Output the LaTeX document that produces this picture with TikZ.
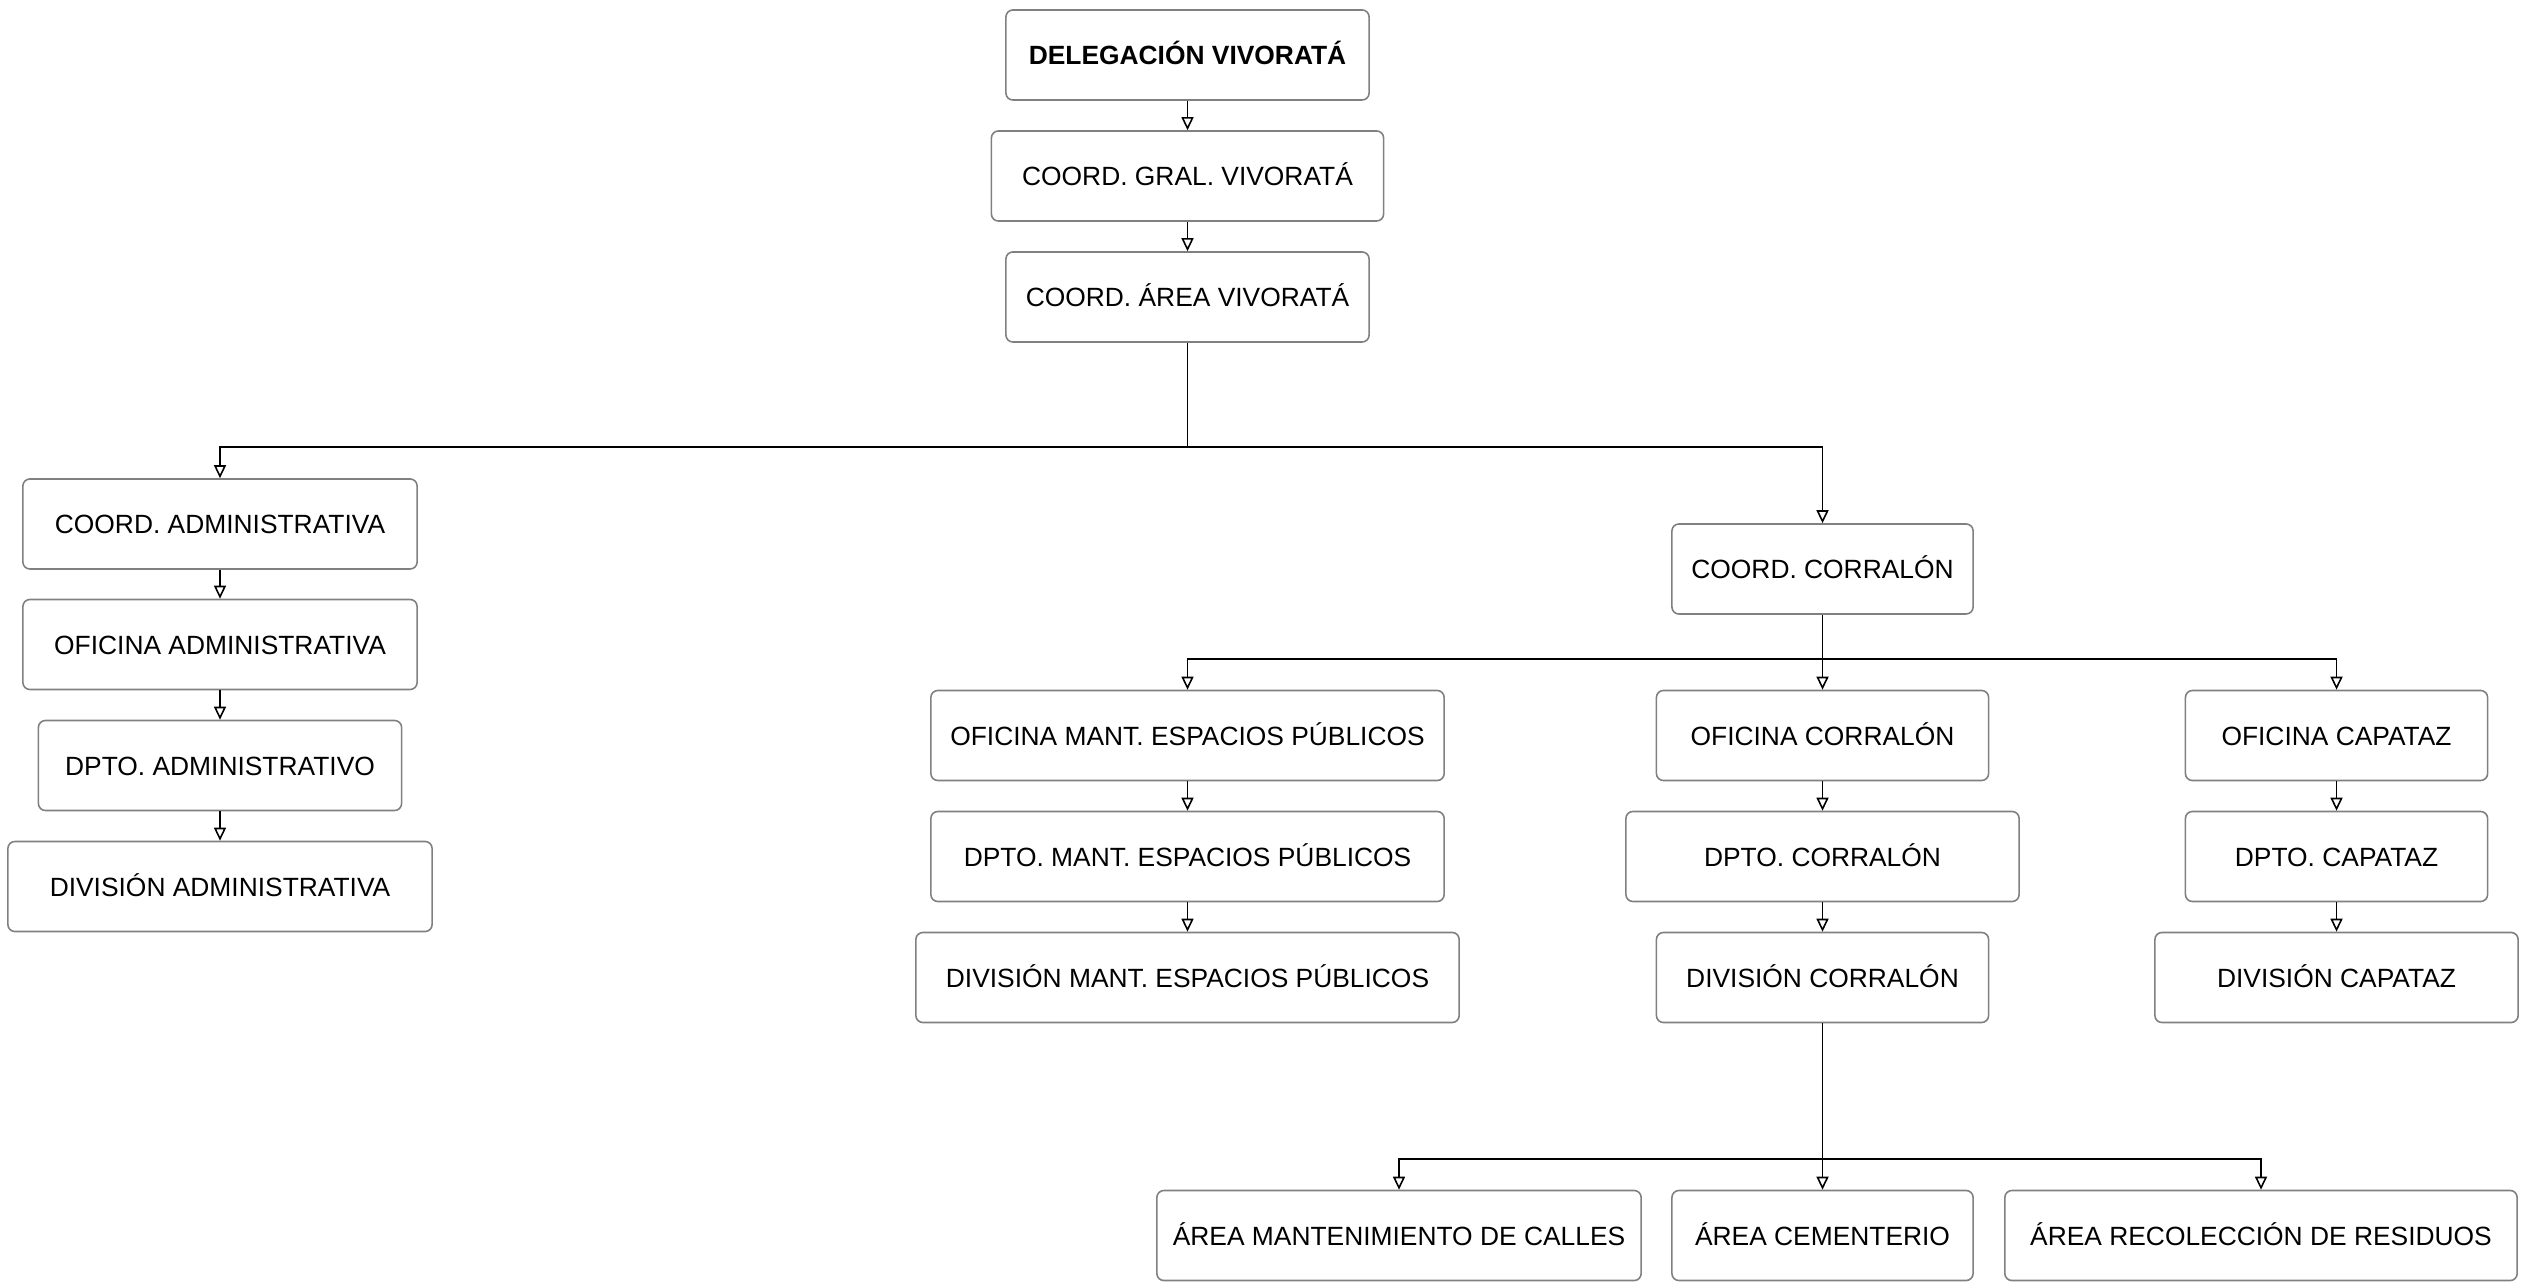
\documentclass[tikz,border=0pt]{standalone}
\usepackage{fontspec}
\setmainfont{Liberation Sans}
\usepackage{xcolor}
\usepackage{tikz}
\usetikzlibrary{positioning,calc,arrows.meta}

\definecolor{boxgray}{RGB}{128,128,128}

\begin{document}
\begin{tikzpicture}[x=0.01cm, y=-0.01cm,
    unit/.style={draw=boxgray, line width=0.45pt, rounded corners=2pt, minimum height=0.9cm,
        inner sep=0pt, text height=1.9mm, text depth=0pt, font=\fontsize{7.5}{9}\selectfont},
    link/.style={draw=black, line width=0.45pt, -{Triangle[open, length=1.3mm, width=1.2mm]}},
    plain/.style={draw=black, line width=0.45pt}]
    \useasboundingbox (0,0) rectangle (2540,1283);

    % Top chain
    \node[unit, minimum width=3.63cm] (deleg) at (1187.5,55) {\textbf{DELEGACIÓN VIVORATÁ}};
    \node[unit, minimum width=3.92cm] (gral) at (1187.5,176) {COORD. GRAL. VIVORATÁ};
    \node[unit, minimum width=3.63cm] (area) at (1187.5,297) {COORD. ÁREA VIVORATÁ};
    \draw[link] (deleg) -- (gral);
    \draw[link] (gral) -- (area);

    % Administrative branch
    \node[unit, minimum width=3.94cm] (cadm) at (220,524) {COORD. ADMINISTRATIVA};
    \node[unit, minimum width=3.94cm] (oadm) at (220,644.5) {OFICINA ADMINISTRATIVA};
    \node[unit, minimum width=3.63cm] (dadm) at (220,765.5) {DPTO. ADMINISTRATIVO};
    \node[unit, minimum width=4.24cm] (vadm) at (220,886.5) {DIVISIÓN ADMINISTRATIVA};
    \draw[link] (cadm) -- (oadm);
    \draw[link] (oadm) -- (dadm);
    \draw[link] (dadm) -- (vadm);

    % Corralon branch
    \node[unit, minimum width=3.01cm] (ccorr) at (1822.5,569) {COORD. CORRALÓN};
    \coordinate (jtop) at (1187.5,447);
    \draw[plain] (area) -- (jtop);
    \draw[link] (jtop) -| (cadm);
    \draw[link] (jtop) -| (ccorr);

    % Three columns
    \node[unit, minimum width=5.13cm] (omant) at (1187.5,735.5) {OFICINA MANT. ESPACIOS PÚBLICOS};
    \node[unit, minimum width=5.13cm] (dmant) at (1187.5,856.5) {DPTO. MANT. ESPACIOS PÚBLICOS};
    \node[unit, minimum width=5.43cm] (vmant) at (1187.5,977.5) {DIVISIÓN MANT. ESPACIOS PÚBLICOS};
    \node[unit, minimum width=3.32cm] (ocorr) at (1822.5,735.5) {OFICINA CORRALÓN};
    \node[unit, minimum width=3.93cm] (dcorr) at (1822.5,856.5) {DPTO. CORRALÓN};
    \node[unit, minimum width=3.32cm] (vcorr) at (1822.5,977.5) {DIVISIÓN CORRALÓN};
    \node[unit, minimum width=3.02cm] (ocap) at (2336.5,735.5) {OFICINA CAPATAZ};
    \node[unit, minimum width=3.02cm] (dcap) at (2336.5,856.5) {DPTO. CAPATAZ};
    \node[unit, minimum width=3.63cm] (vcap) at (2336.5,977.5) {DIVISIÓN CAPATAZ};
    \coordinate (jmid) at (1822.5,659);
    \draw[plain] (ccorr) -- (jmid);
    \draw[link] (jmid) -| (omant);
    \draw[link] (jmid) -- (ocorr);
    \draw[link] (jmid) -| (ocap);
    \draw[link] (omant) -- (dmant);
    \draw[link] (dmant) -- (vmant);
    \draw[link] (ocorr) -- (dcorr);
    \draw[link] (dcorr) -- (vcorr);
    \draw[link] (ocap) -- (dcap);
    \draw[link] (dcap) -- (vcap);

    % Areas
    \node[unit, minimum width=4.84cm] (acalles) at (1399,1235.5) {ÁREA MANTENIMIENTO DE CALLES};
    \node[unit, minimum width=3.01cm] (acem) at (1822.5,1235.5) {ÁREA CEMENTERIO};
    \node[unit, minimum width=5.12cm] (ares) at (2261,1235.5) {ÁREA RECOLECCIÓN DE RESIDUOS};
    \coordinate (jlow) at (1822.5,1159);
    \draw[plain] (vcorr) -- (jlow);
    \draw[link] (jlow) -| (acalles);
    \draw[link] (jlow) -- (acem);
    \draw[link] (jlow) -| (ares);
\end{tikzpicture}
\end{document}
